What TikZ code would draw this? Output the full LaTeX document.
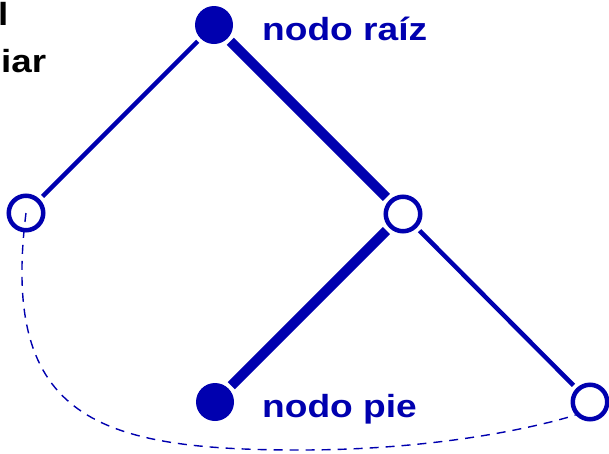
\documentclass[tikz,border=0pt]{standalone}
\usepackage{fontspec}
\setmainfont{Liberation Sans}
\usepackage{graphicx}
\definecolor{treeblue}{RGB}{0,0,175}
\tikzset{
  fullnode/.style={circle, fill=treeblue, draw=none, minimum size=38pt, inner sep=0pt, outer sep=0pt},
  opennode/.style={circle, draw=treeblue, fill=none, line width=4.5pt, minimum size=34.5pt, inner sep=0pt},
  thinedge/.style={draw=treeblue, line width=4.5pt, shorten <=4pt, shorten >=4pt},
  thickedge/.style={draw=treeblue, line width=10pt, shorten <=4pt, shorten >=4pt},
  dashlink/.style={draw=treeblue, line width=1.4pt, dash pattern=on 9pt off 7pt},
  bluelabel/.style={anchor=base west, inner sep=0pt, text=treeblue, font=\fontsize{32}{38}\selectfont\bfseries},
  blacklabel/.style={anchor=base west, inner sep=0pt, text=black, font=\fontsize{32}{38}\selectfont\bfseries}
}
\begin{document}
\begin{tikzpicture}[x=1pt, y=-1pt]
\useasboundingbox (0,0) rectangle (609,453);
\node[fullnode] (root) at (214,25) {};
\node[opennode] (L) at (26,213) {};
\node[opennode] (M) at (403,214) {};
\node[fullnode] (P) at (215,402) {};
\node[opennode] (R) at (590,402) {};
\draw[thinedge] (root) -- (L);
\draw[thickedge] (root) -- (M);
\draw[thickedge] (M) -- (P);
\draw[thinedge] (M) -- (R);
\coordinate (low) at (300,450);
\draw[dashlink] (L.center) .. controls (0,420) and (100,450) .. (low)
  .. controls (420,450) and (520,432) .. (R.222);
\node[bluelabel] (rootlabel) at (262,40) {\scalebox{1.16}[1]{nodo raíz}};
\node[bluelabel] (pielabel) at (262,417) {\scalebox{1.16}[1]{nodo pie}};
\node[blacklabel] (cut1) at (-2,25) {\scalebox{1.15}[1]{l}};
\node[blacklabel] (cut2) at (1,72) {\scalebox{1.15}[1]{iar}};
\end{tikzpicture}
\end{document}
